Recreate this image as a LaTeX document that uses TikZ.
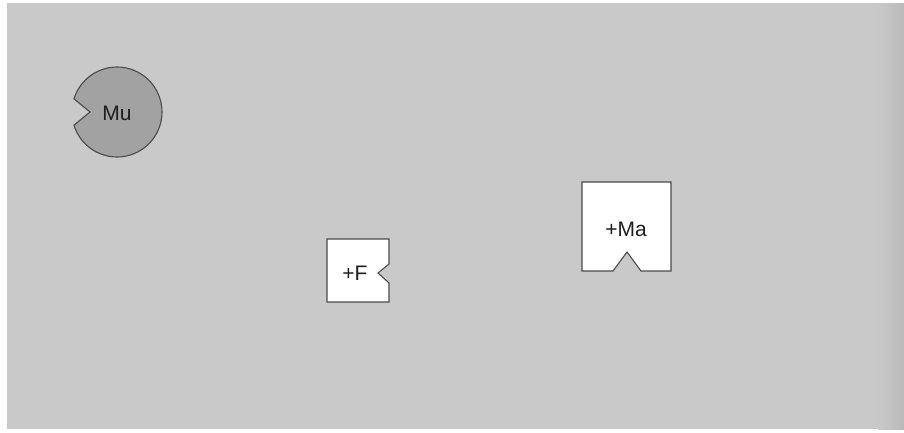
\documentclass[tikz,border=0pt]{standalone}
\usepackage{fontspec}
\usetikzlibrary{calc}
\setmainfont{Liberation Sans}
\definecolor{bg}{HTML}{C9C9C9}
\definecolor{bgdark}{HTML}{BABABA}
\definecolor{mufill}{HTML}{A2A2A2}
\definecolor{edge}{HTML}{4A4A4A}
\definecolor{txt}{HTML}{1E1E1E}
\begin{document}
\begin{tikzpicture}[x=1pt,y=-1pt,
  shapeline/.style={draw=edge,line width=1.1pt,line join=miter},
  lbl/.style={inner sep=0pt,text=txt,font=\fontsize{21}{24}\selectfont}]
\useasboundingbox (0,0) rectangle (904,432);
\fill[white] (0,0) rectangle (904,432);
\fill[bg] (7,3) rectangle (904,429);
\shade[left color=bg,right color=bgdark] (878,3) rectangle (904,429);
% Mu: circle with V notch on left
\coordinate (mc) at (117,112);
\draw[shapeline,fill=mufill]
  ($(mc)+(163:45)$) arc[start angle=163,end angle=-163,radius=45]
  -- (90,112) -- cycle;
\node[lbl] (mu) at (117,113) {Mu};
% +F box with notch on right
\draw[shapeline,fill=white]
  (327,239) -- (389,239) -- (389,264) -- (378,273) -- (389,283)
  -- (389,302) -- (327,302) -- cycle;
\node[lbl] (f) at (355,273) {+F};
% +Ma box with notch at bottom
\draw[shapeline,fill=white]
  (582,182) -- (671,182) -- (671,271) -- (641,271) -- (627,252)
  -- (613,271) -- (582,271) -- cycle;
\node[lbl] (ma) at (626,229) {+Ma};
\end{tikzpicture}
\end{document}
